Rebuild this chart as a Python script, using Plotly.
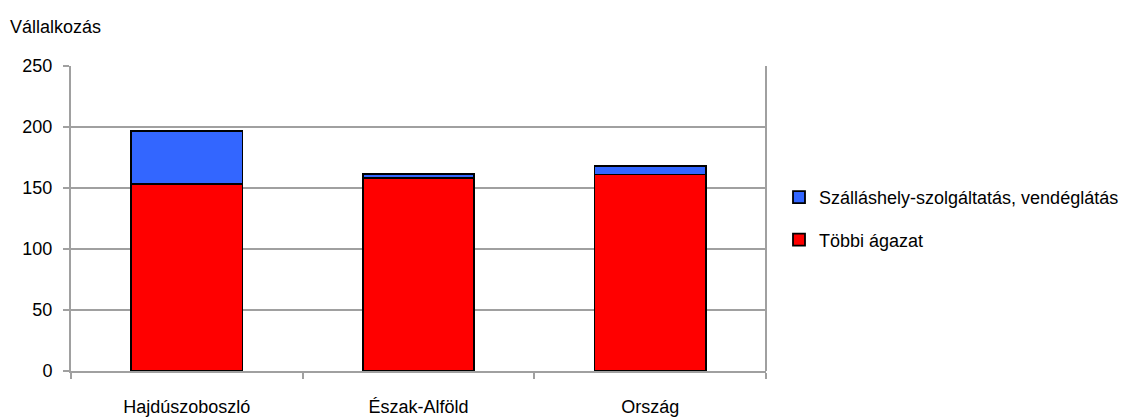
import plotly.graph_objects as go

categories = ["Hajdúszoboszló", "Észak-Alföld", "Ország"]
tobbi = [153, 158, 161]
szallas = [44, 3.5, 7]
y_ticks = [0, 50, 100, 150, 200, 250]

FONT = "Liberation Sans, Arial, sans-serif"
GRID = "#a0a0a0"
FS = 18

fig = go.Figure()
fig.add_trace(go.Bar(
    x=categories, y=tobbi, name="Többi ágazat",
    marker=dict(color="#ff0000", line=dict(color="black", width=1.8)),
    width=0.48, legendgroup="b", legendrank=2,
))
fig.add_trace(go.Bar(
    x=categories, y=szallas, name="Szálláshely-szolgáltatás, vendéglátás",
    marker=dict(color="#3366ff", line=dict(color="black", width=1.8)),
    width=0.48, legendgroup="a", legendrank=1,
))

fig.update_layout(
    barmode="stack",
    width=1128, height=417,
    margin=dict(l=71, r=362, t=66, b=46, autoexpand=False),
    paper_bgcolor="white", plot_bgcolor="white",
    font=dict(family=FONT, size=FS, color="black"),
    legend=dict(
        x=(779 - 71) / 695, y=0.5, xanchor="left", yanchor="middle",
        traceorder="grouped", tracegroupgap=16, itemwidth=30,
        font=dict(size=FS, family=FONT),
        bgcolor="rgba(0,0,0,0)",
    ),
    showlegend=True,
)
fig.update_xaxes(
    type="category", automargin=False,
    tickson="boundaries",
    ticks="outside", ticklen=6, tickcolor=GRID, tickwidth=2,
    showline=True, linecolor=GRID, linewidth=2,
    showgrid=False, mirror=False,
    ticklabelstandoff=18,
    tickfont=dict(size=FS, family=FONT),
)
fig.update_yaxes(
    range=[0, 250], tickvals=y_ticks, automargin=False,
    ticks="outside", ticklen=6, tickcolor=GRID, tickwidth=2,
    showline=True, linecolor=GRID, linewidth=2,
    showgrid=True, gridcolor=GRID, gridwidth=2,
    zeroline=False, ticklabelstandoff=7,
    tickfont=dict(size=FS, family=FONT),
)
# right border of plot frame
fig.add_shape(type="line", xref="paper", yref="paper", x0=1, x1=1, y0=0, y1=1,
              line=dict(color=GRID, width=2))
fig.add_annotation(
    text="Vállalkozás", xref="paper", yref="paper",
    x=(8 - 71) / 695, y=1 + (66 - 27) / 305, xanchor="left", yanchor="middle",
    showarrow=False, font=dict(size=FS, family=FONT),
)

fig.write_html(
    "out.html",
    config={"displayModeBar": False},
    post_script="document.body.style.margin='0';document.body.style.padding='0';",
)
